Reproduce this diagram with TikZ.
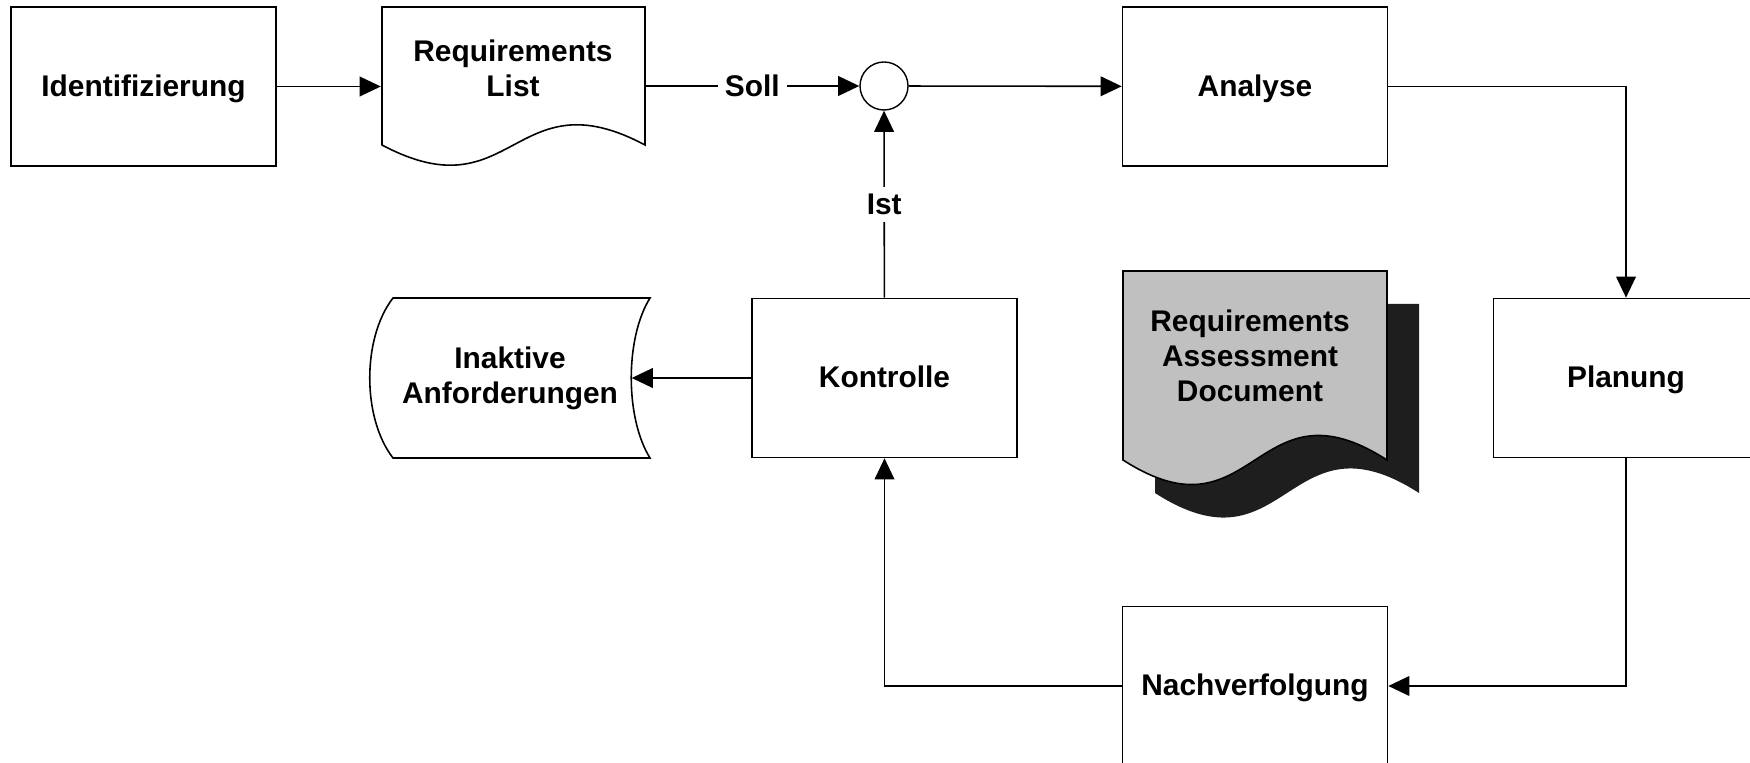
\documentclass[tikz,border=0pt]{standalone}
\usepackage{fontspec}
\setmainfont{Liberation Sans}
\usepackage{tikz}
\usetikzlibrary{arrows.meta, positioning}
\definecolor{docgray}{RGB}{192,192,192}
\definecolor{docshadow}{RGB}{30,30,30}
\tikzset{
	txt/.style={align=center, font=\bfseries\fontsize{8.5}{10}\selectfont},
	box/.style={txt, draw, line width=0.45pt, minimum width=2.65cm, minimum height=1.59cm, text depth=0.6pt},
	flow/.style={-{Triangle[length=6pt,width=5.6pt]}, line width=0.45pt},
	lbl/.style={txt, fill=white, inner sep=2pt}
}

\begin{document}
\begin{tikzpicture}
	\useasboundingbox (0,0) rectangle (17.5,-7.63);

	% Draw the process boxes
	\node[box] (ident) at (1.435,-0.865) {Identifizierung};
	\node[box] (analyse) at (12.55,-0.865) {Analyse};
	\node[box] (planung) at (16.26,-3.78) {Planung};
	\node[box] (nachverf) at (12.55,-6.86) {Nachverfolgung};
	\node[box] (kontrolle) at (8.845,-3.78) {Kontrolle};
	\node[draw, circle, inner sep=0pt, minimum size=0.48cm] (sum) at (8.84,-0.86) {};

	% Requirements list (document)
	\draw[line width=0.45pt] (3.82,-1.45) -- (3.82,-0.07) -- (6.45,-0.07) -- (6.45,-1.45)
		.. controls (5.135,-0.75) and (5.135,-2.15) .. (3.82,-1.45) -- cycle;
	\node[txt, minimum width=2.63cm] (reqlist) at (5.13,-0.68) {Requirements\\List};

	% Inaktive Anforderungen (stored data)
	\draw[line width=0.45pt] (3.93,-2.98) -- (6.50,-2.98)
		.. controls (6.25,-3.38) and (6.25,-4.18) .. (6.50,-4.58) -- (3.93,-4.58)
		.. controls (3.62,-4.18) and (3.62,-3.38) .. (3.93,-2.98) -- cycle;
	\node[txt, minimum width=2.42cm] (inaktiv) at (5.10,-3.78) {Inaktive\\Anforderungen};

	% Requirements assessment document with shadow
	\fill[docshadow] (11.55,-4.93) -- (11.55,-3.04) -- (14.19,-3.04) -- (14.19,-4.93)
		.. controls (12.87,-4.08) and (12.87,-5.78) .. (11.55,-4.93) -- cycle;
	\draw[fill=docgray, line width=0.45pt] (11.23,-4.60) -- (11.23,-2.71) -- (13.87,-2.71) -- (13.87,-4.60)
		.. controls (12.55,-3.75) and (12.55,-5.45) .. (11.23,-4.60) -- cycle;
	\node[txt] (rad) at (12.50,-3.56) {Requirements\\Assessment\\Document};

	% Draw the arrows
	\draw[flow] (ident) -- (ident -| reqlist.west);
	\draw[flow] (reqlist.east |- sum) -- (sum) node[lbl, midway] {Soll};
	\draw[flow] (sum) -- (analyse);
	\draw[flow] (analyse) -| (planung);
	\draw[flow] (planung) |- (nachverf);
	\draw[flow] (nachverf) -| (kontrolle);
	\draw[flow] (kontrolle) -- (sum) node[lbl, midway] {Ist};
	\draw[flow] (kontrolle) -- (inaktiv);
\end{tikzpicture}
\end{document}
